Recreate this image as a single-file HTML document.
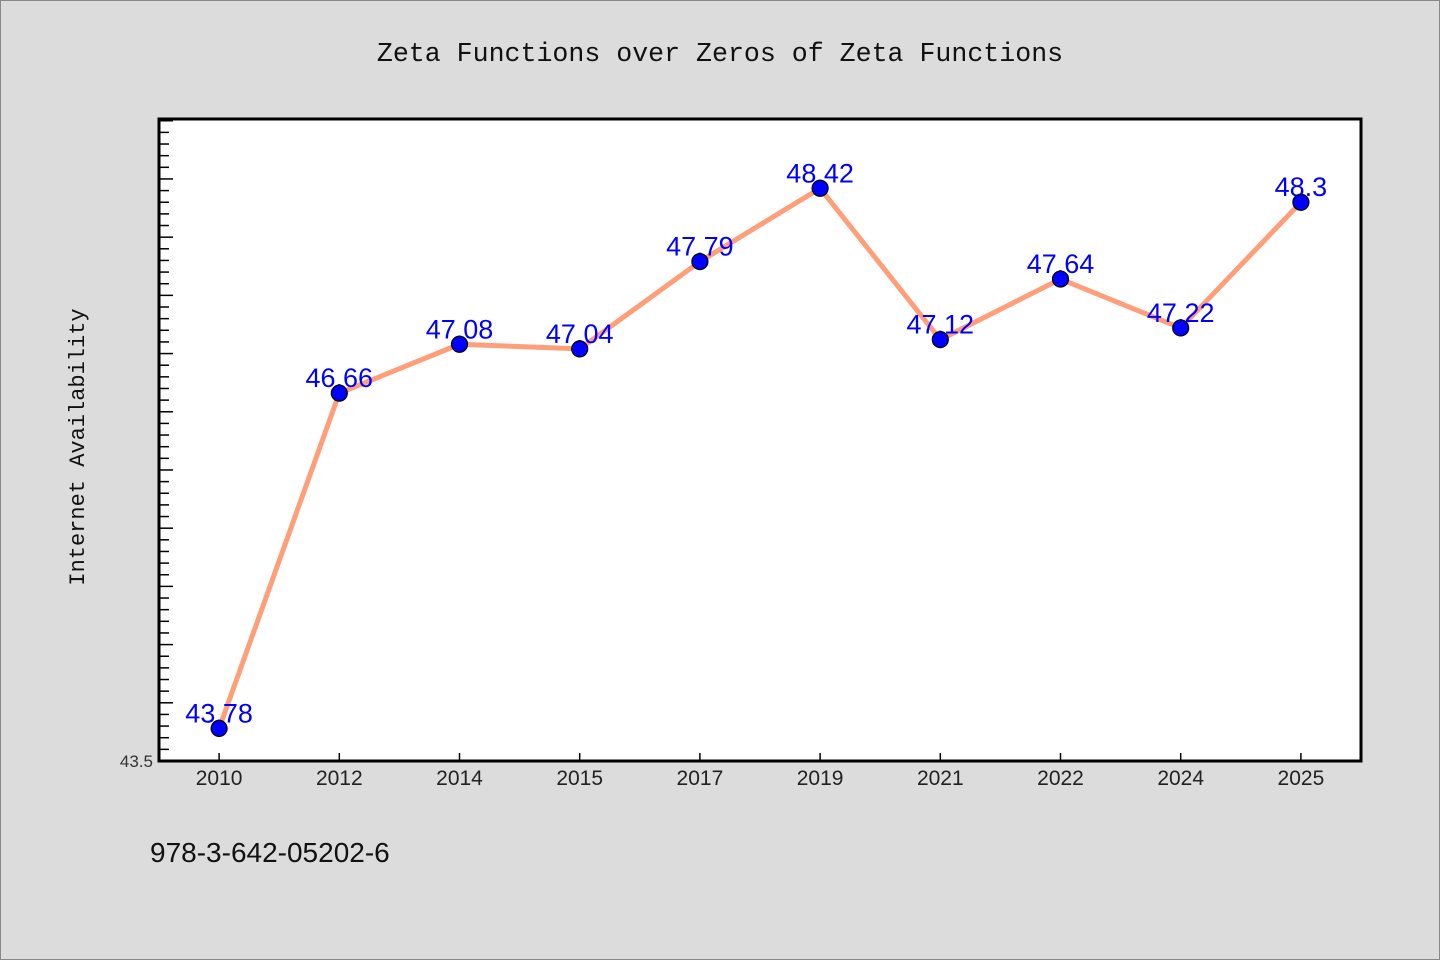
<!DOCTYPE html>
<html><head><meta charset="utf-8"><style>
body{margin:0;background:#dcdcdc;}
svg{display:block;}
</style></head><body>
<svg width="1440" height="960" xmlns="http://www.w3.org/2000/svg" id="chart">
<rect x="0.5" y="0.5" width="1439" height="959" fill="#dcdcdc" stroke="#888"/>
<text x="720" y="61" text-anchor="middle" font-family="Liberation Mono, monospace" font-size="26.6" fill="#111">Zeta Functions over Zeros of Zeta Functions</text>
<text transform="translate(84,447) rotate(-90)" text-anchor="middle" font-family="Liberation Mono, monospace" font-size="22" fill="#111">Internet Availability</text>
<text x="150" y="862" font-family="Liberation Sans, sans-serif" font-size="28" fill="#111">978-3-642-05202-6</text>
<rect x="159" y="119" width="1202" height="642" fill="#fff" stroke="#000" stroke-width="3"/>
<g id="ticks"></g>
<g id="marks"></g>
</svg>
<script>
const categories=["2010","2012","2014","2015","2017","2019","2021","2022","2024","2025"];
const values=[43.78,46.66,47.08,47.04,47.79,48.42,47.12,47.64,47.22,48.3];
const valueLabels=["43.78","46.66","47.08","47.04","47.79","48.42","47.12","47.64","47.22","48.3"];
const yMin=43.5, yMax=49.015;
const L=159,R=1361,T=119,B=761;
const NS="http://www.w3.org/2000/svg";
function x(i){return L+(R-L)/categories.length*(i+0.5);}
function y(v){return B-(v-yMin)/(yMax-yMin)*(B-T);}
function mk(tag,attrs,parent){const e=document.createElementNS(NS,tag);for(const k in attrs)e.setAttribute(k,attrs[k]);parent.appendChild(e);return e;}
const tg=document.getElementById('ticks'), mg=document.getElementById('marks');
for(let k=1;k*0.1+yMin<yMax;k++){
  const v=yMin+k*0.1, major=k%5===0;
  const t=mk('line',{x1:L,x2:L+(major?14:10),y1:y(v),y2:y(v),stroke:'#000','stroke-width':1.5},tg);
  
  
}
const yl=mk('text',{x:L-6,y:B+6,'text-anchor':'end','font-family':'Liberation Sans, sans-serif','font-size':17,fill:'#333'},tg);
yl.textContent="43.5";


categories.forEach((c,i)=>{
  const t=mk('line',{x1:x(i),x2:x(i),y1:B,y2:B-8,stroke:'#000','stroke-width':1.5},tg);
  
  
  const l=mk('text',{x:x(i),y:B+24,'text-anchor':'middle','font-family':'Liberation Sans, sans-serif','font-size':21,fill:'#222'},tg);
  l.textContent=c;
  
  
});
const line=mk('polyline',{points:values.map((v,i)=>x(i)+','+y(v)).join(' '),fill:'none',stroke:'#ff9f7a','stroke-width':5,'stroke-linejoin':'round'},mg);


values.forEach((v,i)=>{
  const lb=mk('text',{x:x(i),y:y(v)-6,'text-anchor':'middle','font-family':'Liberation Sans, sans-serif','font-size':27,fill:'#0000ff'},mg);
  lb.textContent=valueLabels[i];
  
  
});
values.forEach((v,i)=>{
  const p=mk('circle',{cx:x(i),cy:y(v),r:8,fill:'#0000ff',stroke:'#000','stroke-width':1.2},mg);
  
  
});
</script>
</body></html>
